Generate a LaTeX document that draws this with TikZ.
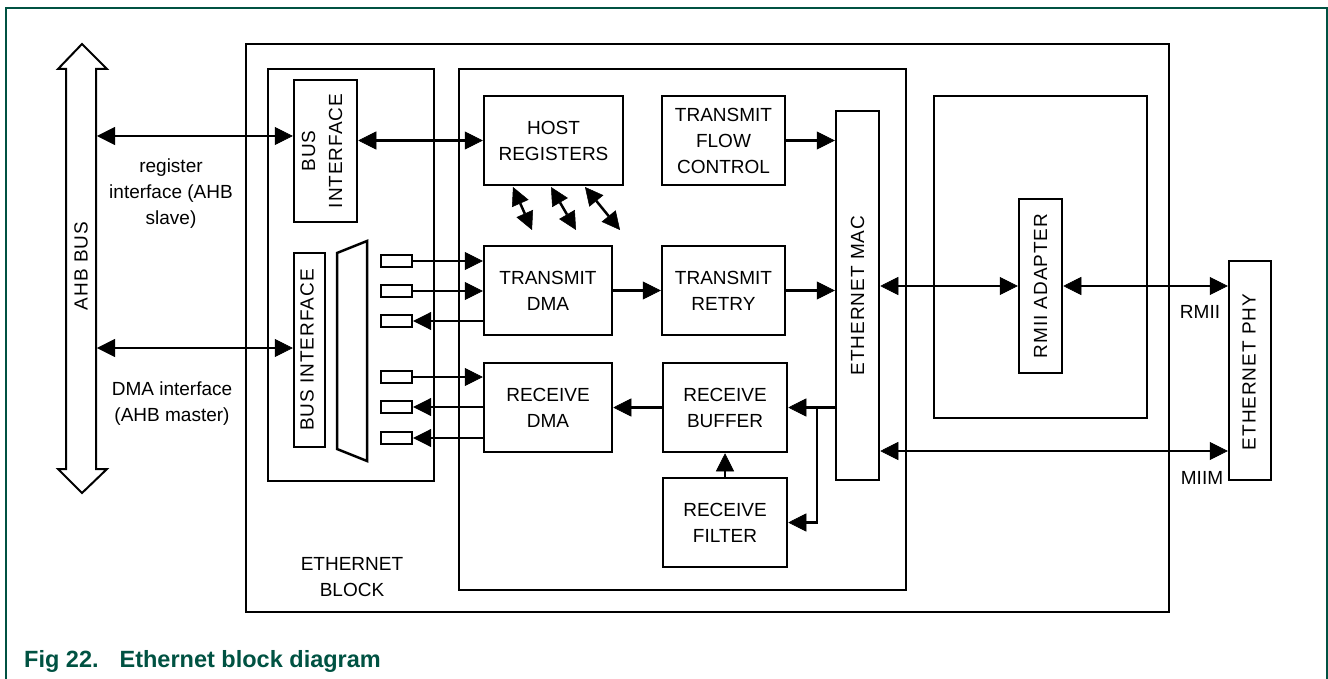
\documentclass[tikz,border=0pt]{standalone}
\usepackage{fontspec}
\setmainfont{Liberation Sans}
\newfontfamily\spacedfont[LetterSpace=5]{Liberation Sans}
\usetikzlibrary{arrows.meta}
\definecolor{nxpgreen}{RGB}{0,82,66}
\newcommand\bxfont{\fontsize{19}{26}\selectfont}
\newcommand\rotfont{\spacedfont\fontsize{19}{27}\selectfont}
\tikzset{headtip/.tip={Triangle[length=18pt 0 0,width=18pt 0 0,line width=0.5pt]}}
\begin{document}
\begin{tikzpicture}[x=1pt,y=-1pt,
  box/.style={draw, line width=2.5pt, inner sep=0pt, align=center, font=\bxfont},
  sbox/.style={draw, line width=2.2pt, inner sep=0pt, minimum width=31pt, minimum height=12pt},
  lbl/.style={inner sep=0pt, align=center, font=\bxfont},
  rot/.style={inner sep=0pt, align=center, font=\rotfont, rotate=90},
  ar/.style={line width=2.5pt, -headtip},
  ra/.style={line width=2.5pt, headtip-},
  dar/.style={line width=2.5pt, headtip-headtip}]
\useasboundingbox (0,0) rectangle (1328,679);
% frame
\draw[nxpgreen, line width=2pt] (6,679) -- (6,8) -- (1327,8) -- (1327,679);
\node[anchor=base west, inner sep=0pt, text=nxpgreen, font=\fontsize{23.5}{28}\selectfont\bfseries] (cap) at (24,667) {Fig 22.\hspace{21pt}Ethernet block diagram};

% AHB bus arrow
\draw[line width=2pt, line join=miter] (66,69) -- (58,69) -- (82,44) -- (107,69) -- (96,69) -- (96,469) -- (107,469) -- (82,493) -- (58,469) -- (66,469) -- cycle;
\node[rot] (ahbtxt) at (81,266) {AHB BUS};
\coordinate (ahb1) at (97,136);
\coordinate (ahb2) at (97,348);

% main boxes
\node[box, minimum width=923pt, minimum height=568pt] (blk) at (707.5,328) {};
\node[box, minimum width=166pt, minimum height=412pt] (lbox) at (351,275) {};
\node[box, minimum width=447pt, minimum height=521pt] (mbox) at (682.5,329.5) {};
\node[box, minimum width=213pt, minimum height=322pt] (rbox) at (1040.5,257) {};
\node[lbl] (blktxt) at (352,577) {ETHERNET\\BLOCK};

% bus interfaces
\node[box, minimum width=63pt, minimum height=142pt] (bi1) at (325.5,151) {};
\node[rot] (bi1t) at (322,151) {BUS\\INTERFACE};
\node[box, minimum width=31pt, minimum height=194pt] (bi2) at (309.5,350) {};
\node[rot] (bi2t) at (307,350) {BUS INTERFACE};
\draw[line width=2.5pt, line join=miter] (337,253) -- (367,241) -- (367,461) -- (337,449) -- cycle;

% small rects
\node[sbox] (s1) at (396.5,261) {};
\node[sbox] (s2) at (396.5,291) {};
\node[sbox] (s3) at (396.5,321) {};
\node[sbox] (s4) at (396.5,377) {};
\node[sbox] (s5) at (396.5,407) {};
\node[sbox] (s6) at (396.5,438) {};

% function blocks
\node[box, minimum width=139pt, minimum height=89pt] (host) at (553.5,140.5) {HOST\\REGISTERS};
\node[box, minimum width=123pt, minimum height=89pt] (tfc) at (723.5,140.5) {TRANSMIT\\FLOW\\CONTROL};
\node[box, minimum width=128pt, minimum height=89pt] (tdma) at (548,290.5) {TRANSMIT\\DMA};
\node[box, minimum width=123pt, minimum height=89pt] (tretry) at (723.5,290.5) {TRANSMIT\\RETRY};
\node[box, minimum width=128pt, minimum height=89pt] (rdma) at (548,407.5) {RECEIVE\\DMA};
\node[box, minimum width=124pt, minimum height=89pt] (rbuf) at (725,407.5) {RECEIVE\\BUFFER};
\node[box, minimum width=124pt, minimum height=89pt] (rfilt) at (725,522.5) {RECEIVE\\FILTER};
\node[box, minimum width=43pt, minimum height=369pt] (mac) at (857.5,295.5) {};
\node[rot] (mact) at (857.5,295.5) {ETHERNET MAC};
\node[box, minimum width=43pt, minimum height=174pt] (rmii) at (1040.5,286) {};
\node[rot] (rmiit) at (1040.5,286) {RMII ADAPTER};
\node[box, minimum width=42pt, minimum height=219pt] (phy) at (1250,370.5) {};
\node[rot] (phyt) at (1249,372) {ETHERNET PHY};

% labels
\node[lbl] (reglbl) at (171,194) {register\\interface (AHB\\slave)};
\node[lbl] (dmalbl) at (172,404) {DMA interface\\(AHB master)};
\node[lbl] (rmiilbl) at (1200,312) {RMII};
\node[lbl] (miimlbl) at (1202,478) {MIIM};

% connectors
\draw[dar] (ahb1) -- (ahb1 -| bi1.west);
\draw[dar] (ahb2) -- (ahb2 -| bi2.west);
\draw[dar] (host.west -| bi1.east) -- (host.west);
\draw[ar] (s1.east) -- (s1.east -| tdma.west);
\draw[ar] (s2.east) -- (s2.east -| tdma.west);
\draw[ra] (s3.east) -- (s3.east -| tdma.west);
\draw[ar] (s4.east) -- (s4.east -| rdma.west);
\draw[ra] (s5.east) -- (s5.east -| rdma.west);
\draw[ra] (s6.east) -- (s6.east -| rdma.west);
\coordinate (d1a) at (513,187); \coordinate (d1b) at (532,230);
\coordinate (d2a) at (551,187); \coordinate (d2b) at (576,230);
\coordinate (d3a) at (585,187); \coordinate (d3b) at (620,230);
\draw[dar] (d1a) -- (d1b);
\draw[dar] (d2a) -- (d2b);
\draw[dar] (d3a) -- (d3b);
\draw[ar] (tdma.east) -- (tretry.west);
\draw[ar] (tfc.east) -- (tfc.east -| mac.west);
\draw[ar] (tretry.east) -- (tretry.east -| mac.west);
\coordinate (br) at (817,407.5);
\draw[ar] (rbuf.east -| mac.west) -- (rbuf.east);
\draw[ar] (br) |- (rfilt.east);
\draw[ar] (rbuf.west) -- (rdma.east);
\draw[ar] (rfilt.north) -- (rbuf.south);
\draw[dar] (rmii.west -| mac.east) -- (rmii.west);
\draw[dar] (rmii.east) -- (rmii.east -| phy.west);
\coordinate (ym) at (0,451);
\draw[dar] (mac.east |- ym) -- (phy.west |- ym);
\end{tikzpicture}
\end{document}
